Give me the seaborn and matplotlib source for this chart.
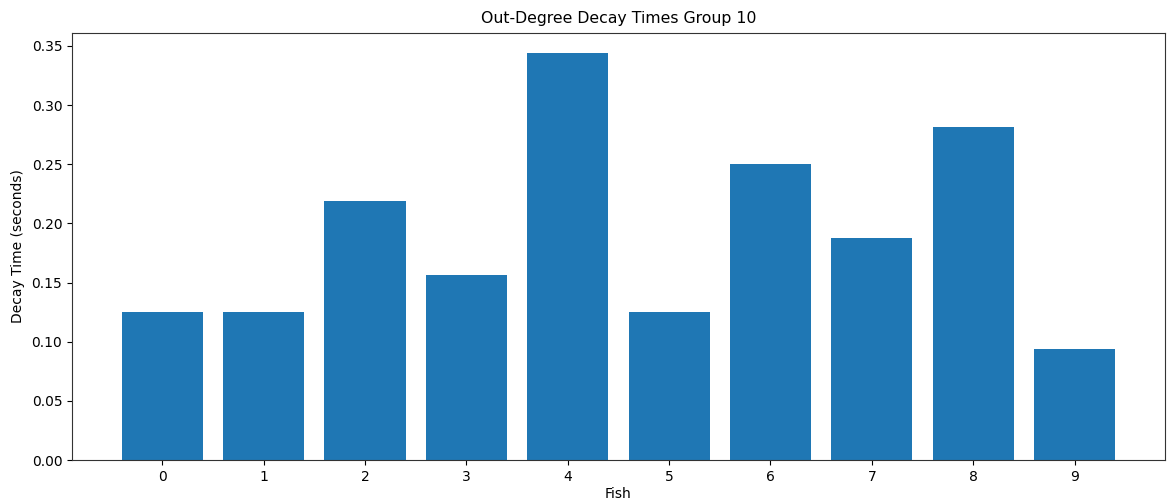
import matplotlib
matplotlib.use("Agg")
import matplotlib.pyplot as plt
import seaborn as sns
import pandas as pd

fish = [0, 1, 2, 3, 4, 5, 6, 7, 8, 9]
decay_times = [0.125, 0.125, 0.21875, 0.15625, 0.34375, 0.125, 0.25, 0.1875, 0.28125, 0.09375]

df = pd.DataFrame({"Fish": fish, "Decay": decay_times})

fig, ax = plt.subplots(figsize=(11.73, 5.04), dpi=100)
fig.subplots_adjust(left=0.0614, right=0.993, top=0.9345, bottom=0.0873)

sns.barplot(data=df, x="Fish", y="Decay", color="#1f77b4", saturation=1,
            width=0.8, ax=ax, errorbar=None)

ax.set_xlim(-0.89, 9.89)
ax.set_ylim(0, max(decay_times) * 1.05)
ax.set_title("Out-Degree Decay Times Group 10", fontsize=11.3, pad=7)
ax.set_xlabel("Fish", labelpad=2)
ax.set_ylabel("Decay Time (seconds)", labelpad=5)
for spine in ax.spines.values():
    spine.set_color("#333333")

fig.savefig("out.png", dpi=100)
